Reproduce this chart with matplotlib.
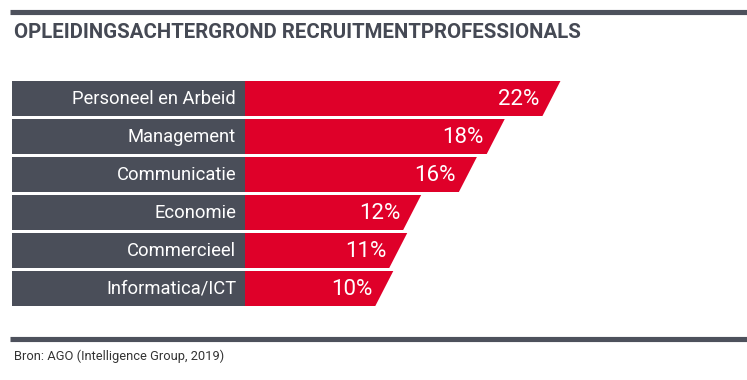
import matplotlib
matplotlib.use("Agg")
from matplotlib import pyplot as plt
from matplotlib.patches import Polygon
from matplotlib.lines import Line2D

# data
categories = ["Personeel en Arbeid", "Management", "Communicatie",
              "Economie", "Commercieel", "Informatica/ICT"]
values = [22, 18, 16, 12, 11, 10]
value_labels = ["22%", "18%", "16%", "12%", "11%", "10%"]
title = "OPLEIDINGSACHTERGROND RECRUITMENTPROFESSIONALS"
source = "Bron: AGO (Intelligence Group, 2019)"

GRAY = "#4a4e59"
RED = "#df0029"
W, H = 747, 380

plt.rcParams['font.family'] = ['Roboto', 'DejaVu Sans']

fig = plt.figure(figsize=(W / 100, H / 100), dpi=100)

# lines and texts in pixel-ish figure coords
def fx(px):
    return px / W

def fy(py):
    return 1 - py / H

fig.add_artist(Line2D([fx(10), 1], [fy(11.5), fy(11.5)], lw=3.7, color="#4d515c",
                      solid_capstyle="butt"))
fig.add_artist(Line2D([fx(10), 1], [fy(338.5), fy(338.5)], lw=3.7, color="#4d515c",
                      solid_capstyle="butt"))
fig.text(fx(14), fy(33), title, fontsize=14.65, fontweight="bold", color="#454954",
         va="center", ha="left")
fig.text(fx(14), fy(356), source, fontsize=9.3, color="#333333", va="center", ha="left")

# bar area
px_per_pct = 13.93
left_px, zero_px = 12, 245
row_px = 38
n = len(categories)
top_px = 98.5 - row_px / 2
ax = fig.add_axes([fx(left_px), fy(top_px + n * row_px), 1 - fx(left_px), n * row_px / H])
xmin = -(zero_px - left_px) / px_per_pct
ax.set_xlim(xmin, (W - zero_px) / px_per_pct)
ax.set_ylim(-0.5, n - 0.5)
ax.axis("off")

h = 35 / row_px
slant = 9 / px_per_pct
for i, (cat, v, lab) in enumerate(zip(categories, values, value_labels)):
    y = n - 1 - i
    ax.barh(y, -xmin, left=xmin, height=h, color=GRAY, lw=0)
    ax.text(-9 / px_per_pct, y, cat, ha="right", va="center", color="white", fontsize=13.2)
    poly = Polygon([(0, y - h / 2), (v - slant, y - h / 2), (v + slant, y + h / 2),
                    (0, y + h / 2)], closed=True, fc=RED, ec="none")
    ax.add_patch(poly)
    ax.text(v - 12 / px_per_pct, y - 0.03, lab, ha="right", va="center", color="white",
            fontsize=16)

fig.savefig("out.png", dpi=100)
